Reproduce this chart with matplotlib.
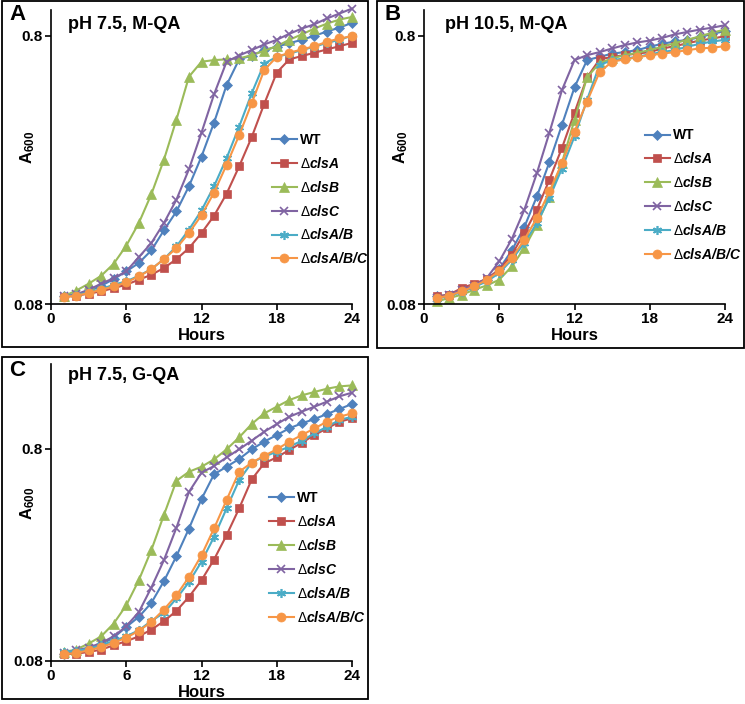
import matplotlib
matplotlib.use("Agg")
import matplotlib.pyplot as plt
from matplotlib.patches import Rectangle
from matplotlib.ticker import FixedLocator, NullLocator, FixedFormatter

plt.rcParams['font.family'] = ['Liberation Sans', 'DejaVu Sans']
plt.rcParams['mathtext.fontset'] = 'custom'
plt.rcParams['mathtext.rm'] = 'Liberation Sans'
plt.rcParams['mathtext.it'] = 'Liberation Sans:italic'
plt.rcParams['mathtext.bf'] = 'Liberation Sans:bold'
plt.rcParams['mathtext.bfit'] = 'Liberation Sans:bold:italic'

hours = list(range(1, 25))
strains = ['WT', r'$\Delta\mathbfit{clsA}$', r'$\Delta\mathbfit{clsB}$', r'$\Delta\mathbfit{clsC}$',
           r'$\Delta\mathbfit{clsA/B}$', r'$\Delta\mathbfit{clsA/B/C}$']

# painel A: pH 7.5, M-QA
a_wt = [0.0854, 0.0866, 0.0892, 0.0935, 0.0991, 0.1058, 0.1137, 0.1267, 0.1504, 0.1770, 0.2197, 0.2834,
        0.379, 0.523, 0.652, 0.674, 0.706, 0.727, 0.749, 0.771, 0.798, 0.828, 0.856, 0.892]
a_clsA = [0.0850, 0.0859, 0.0874, 0.0892, 0.0917, 0.0944, 0.0985, 0.1028, 0.1089, 0.1175, 0.1292, 0.1470,
          0.1705, 0.2060, 0.2603, 0.3343, 0.445, 0.582, 0.652, 0.671, 0.690, 0.710, 0.730, 0.751]
a_clsB = [0.0854, 0.0897, 0.0952, 0.1019, 0.1130, 0.1319, 0.1601, 0.2050, 0.2754, 0.3888, 0.562, 0.639,
          0.648, 0.652, 0.657, 0.676, 0.702, 0.730, 0.771, 0.808, 0.849, 0.886, 0.917, 0.938]
a_clsC = [0.0854, 0.0869, 0.0904, 0.0952, 0.0999, 0.1058, 0.1196, 0.1349, 0.1601, 0.1957, 0.2542, 0.3479,
          0.483, 0.639, 0.674, 0.706, 0.741, 0.771, 0.812, 0.849, 0.881, 0.926, 0.966, 1.008]
a_clsAB = [0.0850, 0.0864, 0.0884, 0.0909, 0.0944, 0.0971, 0.1019, 0.1079, 0.1175, 0.1311, 0.1513, 0.1785,
           0.2197, 0.2794, 0.366, 0.487, 0.629, 0.666, 0.685, 0.706, 0.727, 0.751, 0.771, 0.800]
a_clsABC = [0.0850, 0.0859, 0.0879, 0.0904, 0.0930, 0.0963, 0.1013, 0.1079, 0.1175, 0.1292, 0.1470, 0.1714,
            0.2080, 0.2640, 0.340, 0.447, 0.595, 0.666, 0.690, 0.710, 0.730, 0.758, 0.780, 0.795]

# painel B: pH 10.5, M-QA
b_wt = [0.0854, 0.0866, 0.0904, 0.0935, 0.0985, 0.1079, 0.1267, 0.1548, 0.2013, 0.2700, 0.372, 0.513,
        0.648, 0.666, 0.685, 0.694, 0.706, 0.727, 0.745, 0.760, 0.771, 0.788, 0.812, 0.830]
b_clsA = [0.0854, 0.0866, 0.0917, 0.0952, 0.0991, 0.1073, 0.1221, 0.1470, 0.1795, 0.2324, 0.305, 0.413,
          0.559, 0.652, 0.666, 0.676, 0.685, 0.694, 0.716, 0.730, 0.749, 0.766, 0.780, 0.795]
b_clsB = [0.0818, 0.0842, 0.0866, 0.0904, 0.0938, 0.0985, 0.1104, 0.1292, 0.1579, 0.2007, 0.2690, 0.388,
          0.559, 0.632, 0.657, 0.676, 0.690, 0.706, 0.727, 0.749, 0.771, 0.795, 0.820, 0.842]
b_clsC = [0.0842, 0.0866, 0.0904, 0.0935, 0.0999, 0.1153, 0.1396, 0.1795, 0.2457, 0.3479, 0.501, 0.648,
          0.676, 0.694, 0.716, 0.737, 0.754, 0.766, 0.784, 0.808, 0.825, 0.842, 0.856, 0.874]
b_clsAB = [0.0835, 0.0859, 0.0884, 0.0925, 0.0971, 0.1043, 0.1170, 0.1349, 0.1601, 0.1987, 0.2557, 0.3367,
           0.461, 0.621, 0.648, 0.657, 0.666, 0.681, 0.694, 0.706, 0.727, 0.745, 0.760, 0.771]
b_clsABC = [0.0842, 0.0859, 0.0892, 0.0930, 0.0985, 0.1058, 0.1187, 0.1388, 0.1672, 0.2101, 0.2678, 0.351,
            0.454, 0.585, 0.639, 0.652, 0.663, 0.676, 0.685, 0.694, 0.706, 0.716, 0.721, 0.730]

# painel C: pH 7.5, G-QA
c_wt = [0.0866, 0.0882, 0.0915, 0.0959, 0.1031, 0.1157, 0.1290, 0.1501, 0.1899, 0.2492, 0.336, 0.463,
        0.605, 0.657, 0.714, 0.793, 0.862, 0.926, 0.996, 1.051, 1.101, 1.163, 1.228, 1.296]
c_clsA = [0.0860, 0.0866, 0.0882, 0.0905, 0.0949, 0.0991, 0.1045, 0.1124, 0.1231, 0.1377, 0.1603, 0.1919,
          0.2403, 0.3129, 0.418, 0.572, 0.682, 0.727, 0.788, 0.852, 0.926, 0.995, 1.070, 1.109]
c_clsB = [0.0882, 0.0905, 0.0966, 0.1045, 0.1201, 0.1463, 0.1920, 0.2660, 0.389, 0.564, 0.622, 0.657,
          0.711, 0.793, 0.903, 1.043, 1.171, 1.259, 1.353, 1.424, 1.477, 1.530, 1.569, 1.586]
c_clsC = [0.0873, 0.0898, 0.0925, 0.0973, 0.1045, 0.1166, 0.1358, 0.1773, 0.2385, 0.339, 0.500, 0.616,
          0.662, 0.727, 0.793, 0.871, 0.960, 1.043, 1.129, 1.194, 1.259, 1.330, 1.409, 1.466]
c_clsAB = [0.0882, 0.0892, 0.0915, 0.0949, 0.0994, 0.1045, 0.1116, 0.1235, 0.1347, 0.1575, 0.1880, 0.2349,
           0.3070, 0.418, 0.568, 0.686, 0.733, 0.773, 0.816, 0.871, 0.943, 1.013, 1.090, 1.130]
c_clsABC = [0.0860, 0.0873, 0.0898, 0.0931, 0.0973, 0.1031, 0.1108, 0.1222, 0.1396, 0.1631, 0.1987, 0.2518,
            0.3365, 0.458, 0.622, 0.686, 0.740, 0.793, 0.862, 0.926, 0.995, 1.070, 1.130, 1.171]

colors = ['#4F81BD', '#C0504D', '#9BBB59', '#8064A2', '#4BACC6', '#F79646']
markers = ['D', 's', '^', 'x', (6, 2, 0), 'o']
msizes = [5.5, 6, 6.5, 6, 6.5, 6.5]

W, H = 745, 704
fig = plt.figure(figsize=(W / 100, H / 100), dpi=100)


def px_axes(x0, x1, y0, y1):
    return fig.add_axes([x0 / W, 1 - y1 / H, (x1 - x0) / W, (y1 - y0) / H])


def box(x0, x1, y0, y1):
    fig.patches.append(Rectangle((x0 / W, 1 - y1 / H), (x1 - x0) / W, (y1 - y0) / H,
                                 transform=fig.transFigure, fill=False, lw=1.3, ec='black'))


panels = [
    ('A', 'pH 7.5, M-QA', [a_wt, a_clsA, a_clsB, a_clsC, a_clsAB, a_clsABC],
     (51, 352, 9.5, 304), (2, 368, 1, 347), 1.0, (0.715, 0.6)),
    ('B', 'pH 10.5, M-QA', [b_wt, b_clsA, b_clsB, b_clsC, b_clsAB, b_clsABC],
     (424, 725, 9.5, 304), (377, 744, 1, 348), 1.0, (0.715, 0.615)),
    ('C', 'pH 7.5, G-QA', [c_wt, c_clsA, c_clsB, c_clsC, c_clsAB, c_clsABC],
     (51, 352, 364, 661), (2, 368, 357, 699), 2.0, (0.705, 0.59)),
]

for letter, title, series, ax_px, box_px, ytop, leg_pos in panels:
    ax = px_axes(*ax_px)
    box(*box_px)
    for vals, lab, c, m, ms in zip(series, strains, colors, markers, msizes):
        ax.plot(hours, vals, color=c, marker=m, markersize=ms, lw=1.5, label=lab,
                markeredgewidth=1.2 if m in ('x', (6, 2, 0)) else 0.5, clip_on=False)
    ax.set_yscale('log')
    ax.set_ylim(0.08, ytop)
    ax.set_xlim(0, 24)
    ax.yaxis.set_major_locator(FixedLocator([0.08, 0.8]))
    ax.yaxis.set_major_formatter(FixedFormatter(['0.08', '0.8']))
    ax.yaxis.set_minor_locator(NullLocator())
    ax.set_xticks([0, 6, 12, 18, 24])
    for s in ('top', 'right'):
        ax.spines[s].set_visible(False)
    ax.spines['left'].set_linewidth(1.2)
    ax.spines['bottom'].set_linewidth(1.2)
    ax.tick_params(direction='out', length=4, width=1.2, labelsize=11, pad=2)
    for t in ax.get_xticklabels() + ax.get_yticklabels():
        t.set_fontweight('bold')
    ax.set_xlabel('Hours', fontsize=12, fontweight='bold', labelpad=1)
    ax.set_ylabel(r'A$_{\mathregular{600}}$', fontsize=12, fontweight='bold')
    ax.yaxis.set_label_coords(-0.045, 0.53)
    ax.text(0.056 if letter != 'B' else 0.07, 0.95 if letter != 'C' else 0.962, title,
            transform=ax.transAxes, fontsize=13, fontweight='bold', va='center')
    fig.text((box_px[0] + 7) / W, 1 - (box_px[2] + 3) / H, letter, fontsize=16,
             fontweight='bold', va='top', ha='left')
    leg = ax.legend(loc='upper left', bbox_to_anchor=leg_pos, frameon=False, fontsize=10,
                    handlelength=1.8, handletextpad=0.2, labelspacing=0.64, borderaxespad=0)
    for t in leg.get_texts():
        t.set_fontweight('bold')

fig.savefig('out.png', dpi=100)
